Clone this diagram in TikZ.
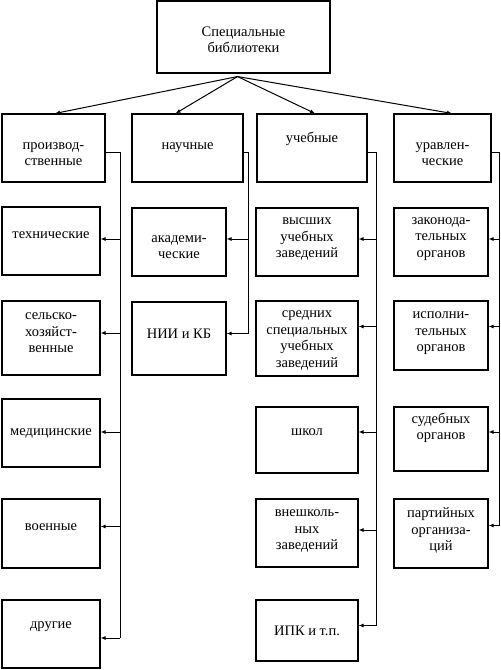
\documentclass[tikz,border=0pt]{standalone}
\usepackage{fontspec}
\setmainfont{Liberation Serif}
\usetikzlibrary{arrows.meta}
\begin{document}
\begin{tikzpicture}[x=1pt,y=-1pt,
  box/.style={draw, line width=1.1pt, inner sep=0pt},
  txt/.style={align=center, inner sep=0pt, font=\fontsize{14.5}{16.5}\selectfont},
  arr/.style={line width=1pt, -{Latex[length=5pt,width=4pt]}},
  ln/.style={line width=1pt}]
\useasboundingbox (0,0) rectangle (501,670);
\newcommand\bx[7][0]{\node[box, minimum width={#5-#3}, minimum height={#6-#4}]
  (#2) at ({(#3+#5)/2},{(#4+#6)/2}) {};
  \node[txt] (#2t) at ([yshift=#1pt]#2.center) {#7};}
% top
\bx[-3]{top}{157}{1}{330}{73}{Специальные\\библиотеки}
% row 1
\bx[-6]{p1}{2}{114}{105}{182}{производ-\\ственные}
\bx{p2}{132}{114}{243}{182}{научные}
\bx[9]{p3}{257}{114}{367}{182}{учебные}
\bx[-6]{p4}{394}{114}{491}{182}{уравлен-\\ческие}
% column 1
\bx[6]{t1}{2}{207}{100}{275}{технические}
\bx[5]{t2}{2}{301}{100}{375}{сельско-\\хозяйст-\\венные}
\bx{t3}{2}{399}{100}{467}{медицинские}
\bx[6]{t4}{2}{499}{100}{568}{военные}
\bx[7]{t5}{2}{600}{100}{668}{другие}
% column 2
\bx[-5]{n1}{132}{208}{226}{276}{академи-\\ческие}
\bx[5]{n2}{132}{302}{226}{375}{НИИ и КБ}
% column 3
\bx[3]{u1}{256}{208}{358}{276}{высших\\учебных\\заведений}
\bx[-2]{u2}{256}{301}{358}{376}{средних\\специальных\\учебных\\заведений}
\bx[8]{u3}{256}{407}{358}{473}{школ}
\bx[2]{u4}{256}{499}{358}{567}{внешколь-\\ных\\заведений}
\bx{u5}{256}{600}{358}{661}{ИПК и т.п.}
% column 4
\bx[3]{g1}{394}{208}{488}{276}{законода-\\тельных\\органов}
\bx[2]{g2}{394}{301}{488}{370}{исполни-\\тельных\\органов}
\bx[11]{g3}{394}{407}{488}{471}{судебных\\органов}
\bx[3]{g4}{394}{499}{488}{568}{партийных\\организа-\\ций}
% top arrows
\coordinate (o) at ([xshift=-6pt,yshift=-3pt]top.south);
\draw[arr] (o) -- ([xshift=1.5pt]p1.north);
\draw[arr] (o) -- ([xshift=-12pt]p2.north);
\draw[arr] (o) -- ([xshift=3pt]p3.north);
\draw[arr] (o) -- ([xshift=9.5pt]p4.north);
% buses
\coordinate (b1) at (120,152);
\coordinate (b2) at (248,152);
\coordinate (b3) at (376,152);
\coordinate (b4) at (499.5,152);
\coordinate (a11) at ([yshift=2pt]t1.east);
\coordinate (a12) at ([yshift=5pt]t2.east);
\coordinate (a13) at ([yshift=1pt]t3.east);
\coordinate (a14) at ([yshift=7pt]t4.east);
\coordinate (a15) at ([yshift=-4pt]t5.east);
\coordinate (a21) at ([yshift=3pt]n1.east);
\coordinate (a22) at ([yshift=5pt]n2.east);
\coordinate (a31) at ([yshift=3pt]u1.east);
\coordinate (a32) at ([yshift=12pt]u2.east);
\coordinate (a33) at ([yshift=8pt]u3.east);
\coordinate (a34) at ([yshift=3pt]u4.east);
\coordinate (a35) at ([yshift=5pt]u5.east);
\coordinate (a41) at ([yshift=3pt]g1.east);
\coordinate (a42) at ([yshift=9pt]g2.east);
\coordinate (a43) at ([yshift=7pt]g3.east);
\coordinate (a44) at ([yshift=8pt]g4.east);
\draw[ln] (p1.east |- b1) -- (b1) -- (b1 |- a15);
\draw[ln] (p2.east |- b2) -- (b2) -- (b2 |- a22);
\draw[ln] (p3.east |- b3) -- (b3) -- (b3 |- a35);
\draw[ln] (p4.east |- b4) -- (b4) -- (b4 |- a44);
\foreach \a/\b in {a11/b1,a12/b1,a13/b1,a14/b1,a15/b1,a21/b2,a22/b2,
  a31/b3,a32/b3,a33/b3,a34/b3,a35/b3,a41/b4,a42/b4,a43/b4,a44/b4}
  \draw[arr] (\b |- \a) -- (\a);
\end{tikzpicture}
\end{document}
